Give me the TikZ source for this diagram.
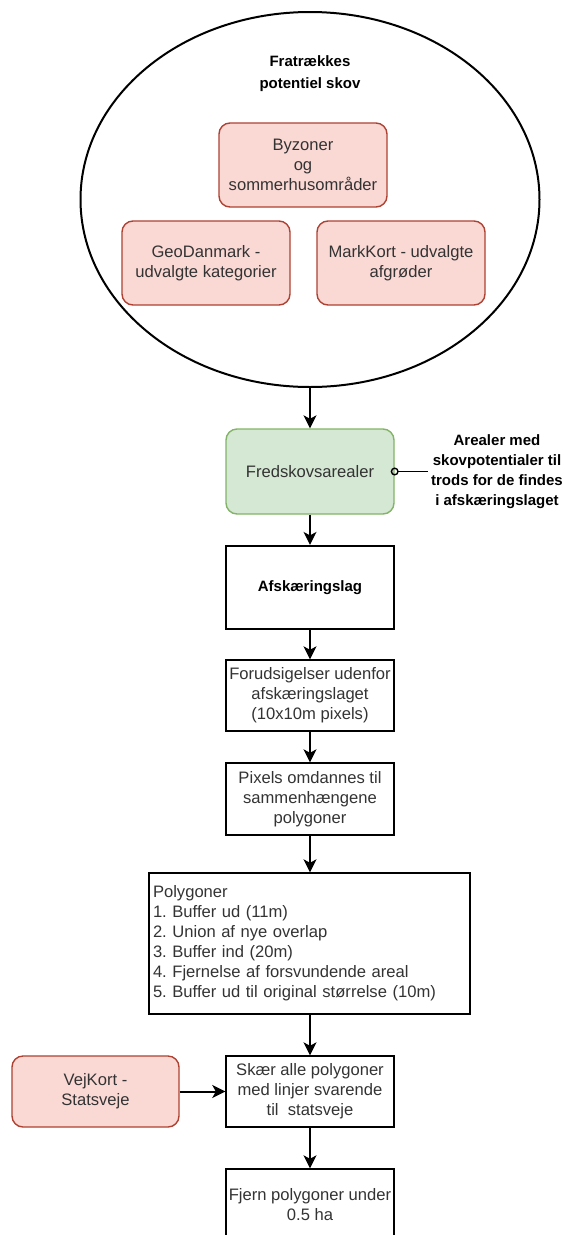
\documentclass[tikz,border=0pt]{standalone}
\usepackage{fontspec}
\setmainfont{Liberation Sans}
\usetikzlibrary{arrows.meta,shapes.geometric}

\definecolor{redfill}{HTML}{FAD9D5}
\definecolor{redline}{HTML}{AE4132}
\definecolor{greenfill}{HTML}{D5E8D4}
\definecolor{greenline}{HTML}{82B366}
\definecolor{textgray}{HTML}{333333}

\tikzset{
  every node/.style={font=\fontsize{16.6}{20}\selectfont\frenchspacing, text=textgray, align=center},
  plain/.style={draw=black, line width=1.4pt, minimum width=168pt, minimum height=71pt, inner sep=2pt},
  layer/.style={draw=redline, fill=redfill, line width=1.4pt, rounded corners=11pt,
    minimum width=168pt, minimum height=84pt, inner sep=2pt},
  keep/.style={draw=greenline, fill=greenfill, line width=1.4pt, rounded corners=11pt,
    minimum width=168pt, minimum height=85pt, inner sep=2pt},
  headline/.style={font=\fontsize{15}{20}\selectfont\bfseries, text=black},
  flow/.style={line width=1.4pt, -{Stealth[length=13pt,width=13pt,inset=3.5pt]}},
}

\begin{document}
\begin{tikzpicture}[x=1pt,y=-1pt]

  \useasboundingbox (0,0) rectangle (565,1235);

  \node[ellipse, draw=black, line width=2pt, minimum width=459pt, minimum height=375pt,
    inner sep=0pt] (ring) at (310,199.5) {};
  \node[headline, font=\fontsize{15}{22}\selectfont\bfseries] (title) at (310,74)
    {Fratrækkes\\potentiel skov};

  \node[layer] (byzoner) at (303,165) {Byzoner\\og\\sommerhusområder};
  \node[layer] (geodk) at (206,263) {GeoDanmark -\\udvalgte kategorier};
  \node[layer] (markkort) at (401,263) {MarkKort - udvalgte\\afgrøder};

  \node[keep] (fred) at (310,471.5) {Fredskovsarealer};
  \node[headline] (note) at (497,471.5)
    {Arealer med\\skovpotentialer til\\trods for de findes\\i afskæringslaget};

  \node[plain, line width=2.2pt, minimum height=83pt, headline] (afsk) at (310,587.5) {Afskæringslag};
  \node[plain] (forud) at (310,695.5) {Forudsigelser udenfor\\afskæringslaget\\(10x10m pixels)};
  \node[plain, minimum height=72pt] (pixels) at (310,799) {Pixels omdannes til\\sammenhængene\\polygoner};
  \node[plain, align=left, text width=313pt, inner sep=4pt, minimum height=141pt] (poly) at (309.5,943.5)
    {Polygoner\\1. Buffer ud (11m)\\2. Union af nye overlap\\3. Buffer ind (20m)\\4. Fjernelse af forsvundende areal\\5. Buffer ud til original størrelse (10m)};
  \node[plain] (skaer) at (310,1091.5) {Skær alle polygoner\\med linjer svarende\\til\ \ statsveje};
  \node[layer, minimum width=167pt, minimum height=71pt] (vejkort) at (95.5,1091.5) {VejKort -\\Statsveje};
  \node[plain, minimum height=72pt] (fjern) at (310,1205) {Fjern polygoner under\\0.5 ha};

  \draw[flow] (ring.south) -- (fred.north);
  \draw[line width=1.4pt, {Circle[open,length=8pt]}-, shorten <=-4pt] (fred.east) -- (note.west);
  \draw[flow] (fred) -- (afsk);
  \draw[flow] (afsk) -- (forud);
  \draw[flow] (forud) -- (pixels);
  \draw[flow] (pixels.south) -- (poly.north -| pixels.south);
  \draw[flow] (poly.south -| skaer.north) -- (skaer.north);
  \draw[flow, line width=2pt] (vejkort) -- (skaer);
  \draw[flow] (skaer) -- (fjern);

\end{tikzpicture}
\end{document}
